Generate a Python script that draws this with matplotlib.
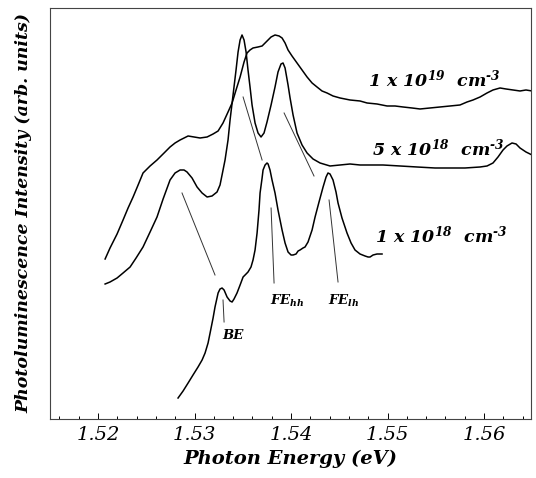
import matplotlib
matplotlib.use("Agg")
import matplotlib.pyplot as plt
from matplotlib.ticker import MultipleLocator

plt.rcParams['font.family'] = ['DejaVu Serif']
plt.rcParams['mathtext.fontset'] = 'custom'
plt.rcParams['mathtext.bf'] = 'DejaVu Serif:italic:bold'
plt.rcParams['mathtext.rm'] = 'DejaVu Serif:italic:bold'
plt.rcParams['mathtext.it'] = 'DejaVu Serif:italic:bold'

# ---- data (photon energy in eV, PL intensity in arb. units) ----
energy_1e19 = [1.52073, 1.52124, 1.52197, 1.52259, 1.52311, 1.52363, 1.52415, 1.52466,
               1.52539, 1.52611, 1.52684, 1.52746, 1.52798, 1.52850, 1.52933, 1.52995,
               1.53057, 1.53130, 1.53192, 1.53244, 1.53295, 1.53347, 1.53389, 1.53430,
               1.53472, 1.53513, 1.53544, 1.53575, 1.53606, 1.53658, 1.53700, 1.53731,
               1.53762, 1.53793, 1.53834, 1.53876, 1.53907, 1.53938, 1.53969, 1.54010,
               1.54062, 1.54114, 1.54166, 1.54218, 1.54269, 1.54321, 1.54373, 1.54435,
               1.54508, 1.54611, 1.54715, 1.54788, 1.54891, 1.54995, 1.55078, 1.55161,
               1.55254, 1.55337, 1.55440, 1.55544, 1.55648, 1.55751, 1.55824, 1.55886,
               1.55959, 1.56031, 1.56093, 1.56166, 1.56228, 1.56301, 1.56373, 1.56435,
               1.56498]
pl_1e19 = [160, 171, 185, 199, 211, 222, 234, 246,
           253, 259, 266, 272, 276, 279, 283, 282,
           281, 282, 285, 288, 296, 307, 316, 329,
           342, 357, 366, 369, 371, 372, 373, 376,
           379, 382, 384, 383, 381, 376, 369, 363,
           356, 349, 342, 336, 332, 328, 326, 323,
           321, 319, 318, 316, 315, 313, 313, 312,
           311, 310, 311, 312, 313, 314, 317, 319,
           322, 326, 329, 331, 330, 329, 328, 329,
           328]

energy_5e18 = [1.52073, 1.52124, 1.52197, 1.52259, 1.52332, 1.52394, 1.52466, 1.52539,
               1.52611, 1.52674, 1.52746, 1.52798, 1.52850, 1.52891, 1.52922, 1.52974,
               1.53026, 1.53078, 1.53130, 1.53181, 1.53233, 1.53264, 1.53285, 1.53316,
               1.53347, 1.53368, 1.53399, 1.53430, 1.53451, 1.53472, 1.53492, 1.53513,
               1.53534, 1.53554, 1.53575, 1.53596, 1.53627, 1.53658, 1.53689, 1.53720,
               1.53751, 1.53793, 1.53834, 1.53865, 1.53896, 1.53917, 1.53938, 1.53969,
               1.53990, 1.54021, 1.54062, 1.54114, 1.54166, 1.54228, 1.54301, 1.54404,
               1.54508, 1.54611, 1.54715, 1.54839, 1.54953, 1.55130, 1.55306, 1.55492,
               1.55648, 1.55803, 1.55959, 1.56031, 1.56093, 1.56145, 1.56197, 1.56238,
               1.56290, 1.56332, 1.56373, 1.56435, 1.56498]
pl_5e18 = [135, 137, 141, 146, 152, 161, 172, 187,
           202, 220, 239, 246, 249, 249, 247, 241,
           232, 226, 222, 223, 227, 234, 244, 259,
           279, 299, 324, 349, 367, 379, 384, 379,
           367, 349, 332, 314, 296, 286, 282, 286,
           297, 314, 332, 347, 355, 356, 351, 334,
           321, 304, 286, 274, 266, 260, 256, 253,
           254, 255, 254, 254, 254, 253, 252, 251,
           251, 251, 252, 253, 256, 262, 269, 273,
           276, 275, 271, 267, 264]

energy_1e18 = [1.52829, 1.52881, 1.52933, 1.52984, 1.53036, 1.53078, 1.53109, 1.53140,
               1.53161, 1.53192, 1.53212, 1.53244, 1.53264, 1.53285, 1.53306, 1.53337,
               1.53368, 1.53389, 1.53409, 1.53440, 1.53472, 1.53503, 1.53534, 1.53554,
               1.53585, 1.53606, 1.53627, 1.53648, 1.53668, 1.53679, 1.53700, 1.53710,
               1.53731, 1.53751, 1.53762, 1.53782, 1.53803, 1.53834, 1.53865, 1.53907,
               1.53938, 1.53969, 1.54000, 1.54021, 1.54052, 1.54073, 1.54093, 1.54124,
               1.54145, 1.54176, 1.54218, 1.54249, 1.54290, 1.54332, 1.54363, 1.54383,
               1.54404, 1.54435, 1.54466, 1.54487, 1.54528, 1.54580, 1.54622, 1.54663,
               1.54715, 1.54767, 1.54798, 1.54819, 1.54850, 1.54891, 1.54943]
pl_1e18 = [21, 28, 36, 44, 52, 59, 66, 76,
           86, 101, 112, 126, 130, 131, 129, 122,
           118, 117, 120, 126, 134, 142, 145, 147,
           152, 159, 169, 186, 209, 226, 241, 249,
           254, 256, 255, 249, 239, 226, 209, 189,
           176, 167, 164, 164, 165, 168, 169, 171,
           172, 177, 189, 202, 217, 232, 242, 246,
           245, 239, 227, 216, 201, 186, 176, 169,
           165, 163, 162, 162, 164, 165, 165]

series_labels = ["$\\mathbf{1\\ x\\ 10^{19}\\ \\ cm^{\u20103}}$",
                 "$\\mathbf{5\\ x\\ 10^{18}\\ \\ cm^{\u20103}}$",
                 "$\\mathbf{1\\ x\\ 10^{18}\\ \\ cm^{\u20103}}$"]
label_energy = [1.54798, 1.54839, 1.54870]
label_pl = [333, 264, 177]

# guide lines tracking the peaks (energy pairs, intensity pairs)
guide_energy = [(1.52870, 1.53212), (1.53503, 1.53700), (1.53928, 1.54238)]
guide_pl = [(226, 144), (322, 259), (306, 243)]

# peak markers: BE, FE_hh, FE_lh
peak_names = ["BE", r"$\mathbf{FE_{hh}}$", r"$\mathbf{FE_{lh}}$"]
peak_line_energy = [(1.53295, 1.53306), (1.53793, 1.53824), (1.54394, 1.54487)]
peak_line_pl = [(119, 97), (211, 136), (219, 137)]
peak_text_energy = [1.53394, 1.53782, 1.54383]
peak_text_pl = [84, 114, 114]

xticks = [1.52, 1.53, 1.54, 1.55, 1.56]
xticklabels = ["1.52", "1.53", "1.54", "1.55", "1.56"]

fig = plt.figure(figsize=(5.36, 4.78), dpi=100)
ax = fig.add_axes([0.0924, 0.1234, 0.8992, 0.8599])

for e, p in [(energy_1e19, pl_1e19), (energy_5e18, pl_5e18), (energy_1e18, pl_1e18)]:
    ax.plot(e, p, color='black', lw=1.1)

for ge, gp in zip(guide_energy, guide_pl):
    ax.plot(ge, gp, color='#333333', lw=0.7)
for le, lp in zip(peak_line_energy, peak_line_pl):
    ax.plot(le, lp, color='#333333', lw=0.7)

for txt, xe, yp in zip(series_labels, label_energy, label_pl):
    ax.text(xe, yp, txt, fontsize=12.5, ha='left', va='baseline')

ax.text(peak_text_energy[0], peak_text_pl[0], peak_names[0], fontsize=9.5,
        fontweight='bold', fontstyle='italic', ha='center', va='center')
for txt, xe, yp in zip(peak_names[1:], peak_text_energy[1:], peak_text_pl[1:]):
    ax.text(xe, yp, txt, fontsize=9.5, ha='left', va='baseline')

ax.set_xlim(1.51497, 1.56492)
ax.set_ylim(0, 411)
ax.set_xticks(xticks)
ax.set_xticklabels(xticklabels, fontstyle='italic', fontsize=14)
ax.xaxis.set_minor_locator(MultipleLocator(0.002))
ax.set_yticks([])
ax.tick_params(axis='x', which='major', direction='in', length=4.5, width=0.7, pad=5)
ax.tick_params(axis='x', which='minor', direction='in', length=2, width=0.7)
for s in ax.spines.values():
    s.set_linewidth(0.8)
    s.set_color('#444444')

ax.set_xlabel("Photon Energy (eV)", fontsize=14, fontweight='bold', fontstyle='italic', labelpad=4)
ax.set_ylabel("Photoluminescence Intensity (arb. units)", fontsize=12.5,
              fontweight='bold', fontstyle='italic', labelpad=12)

fig.savefig("out.png", dpi=100)
